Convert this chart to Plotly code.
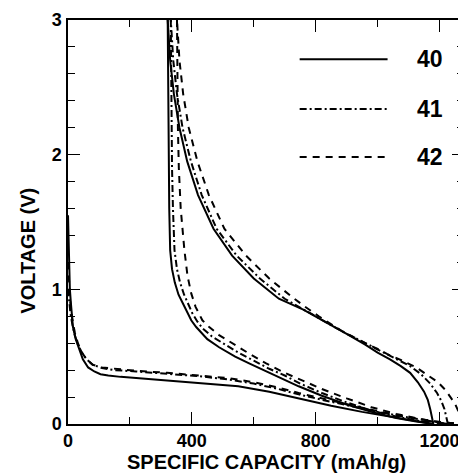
import plotly.graph_objects as go

# ---------------- data (mAh/g, V) ----------------
fd40_x = [0, 3, 6, 10, 16, 25, 35, 48, 65, 85, 105, 130, 170, 250, 350, 450, 550, 650, 750, 850, 950, 1050, 1120, 1180]
fd40_y = [1.55, 1.25, 1.0, 0.88, 0.72, 0.63, 0.56, 0.48, 0.42, 0.39, 0.37, 0.36, 0.35, 0.335, 0.315, 0.30, 0.28, 0.24, 0.185, 0.135, 0.09, 0.05, 0.025, 0.0]

fd41_x = [0, 4, 8, 14, 22, 32, 45, 60, 80, 110, 150, 220, 320, 424, 520, 600, 680, 745, 820, 900, 1000, 1100, 1170, 1227]
fd41_y = [1.0, 0.9, 0.82, 0.74, 0.66, 0.59, 0.53, 0.48, 0.44, 0.415, 0.40, 0.39, 0.375, 0.355, 0.33, 0.30, 0.26, 0.22, 0.18, 0.14, 0.09, 0.048, 0.02, 0.0]

fd42_x = [0, 4, 8, 14, 22, 32, 45, 60, 80, 110, 150, 220, 320, 424, 520, 600, 680, 745, 820, 900, 1000, 1100, 1180, 1269]
fd42_y = [1.2, 1.0, 0.88, 0.78, 0.68, 0.60, 0.53, 0.48, 0.44, 0.42, 0.41, 0.395, 0.38, 0.36, 0.34, 0.31, 0.27, 0.23, 0.19, 0.145, 0.095, 0.05, 0.02, 0.0]

ch40_x = [1180, 1176, 1170, 1162, 1150, 1130, 1105, 1075, 1040, 1000, 960, 900, 830, 760, 681, 600, 530, 470, 420, 385, 360, 342, 330, 322]
ch40_y = [0.0, 0.05, 0.11, 0.18, 0.24, 0.31, 0.38, 0.43, 0.48, 0.53, 0.59, 0.67, 0.76, 0.85, 0.93, 1.08, 1.25, 1.45, 1.7, 1.95, 2.2, 2.45, 2.7, 3.0]

ch41_x = [1227, 1223, 1216, 1206, 1192, 1170, 1140, 1105, 1065, 1020, 970, 900, 830, 760, 700, 620, 545, 480, 432, 397, 370, 352, 340, 332]
ch41_y = [0.0, 0.05, 0.11, 0.17, 0.23, 0.30, 0.37, 0.43, 0.48, 0.53, 0.59, 0.67, 0.76, 0.85, 0.93, 1.08, 1.25, 1.45, 1.7, 1.95, 2.2, 2.45, 2.7, 3.0]

ch42_x = [1269, 1266, 1260, 1250, 1238, 1220, 1195, 1163, 1125, 1080, 1030, 1002, 960, 885, 810, 760, 720, 650, 575, 505, 455, 418, 390, 372, 360, 352]
ch42_y = [0.0, 0.05, 0.10, 0.15, 0.19, 0.25, 0.31, 0.36, 0.42, 0.47, 0.52, 0.555, 0.60, 0.69, 0.80, 0.88, 0.95, 1.08, 1.25, 1.45, 1.7, 1.95, 2.2, 2.45, 2.7, 3.0]

sd40_x = [322, 323, 324, 325, 327, 330, 336, 345, 357, 370, 382, 398, 414, 450, 488, 540, 585, 640, 690, 745, 820, 900, 980, 1060, 1120, 1180]
sd40_y = [3.0, 2.6, 2.2, 1.9, 1.6, 1.29, 1.15, 1.05, 0.96, 0.90, 0.84, 0.77, 0.72, 0.63, 0.57, 0.50, 0.45, 0.39, 0.34, 0.28, 0.21, 0.145, 0.09, 0.045, 0.02, 0.0]

sd41_x = [332, 333, 334, 336, 339, 344, 352, 362, 375, 390, 402, 418, 435, 465, 500, 550, 600, 650, 700, 750, 820, 900, 980, 1060, 1140, 1227]
sd41_y = [3.0, 2.6, 2.2, 1.9, 1.6, 1.29, 1.15, 1.05, 0.96, 0.88, 0.82, 0.76, 0.71, 0.65, 0.60, 0.53, 0.47, 0.41, 0.36, 0.30, 0.23, 0.16, 0.10, 0.055, 0.02, 0.0]

sd42_x = [352, 353, 355, 358, 364, 376, 386, 398, 412, 434, 456, 488, 530, 580, 640, 700, 760, 820, 900, 980, 1060, 1140, 1200, 1269]
sd42_y = [3.0, 2.6, 2.2, 1.9, 1.6, 1.29, 1.10, 0.97, 0.87, 0.77, 0.72, 0.66, 0.60, 0.53, 0.45, 0.38, 0.32, 0.26, 0.19, 0.125, 0.075, 0.035, 0.015, 0.0]

labels = ["40", "41", "42"]
x_ticks = [0, 400, 800, 1200]
y_ticks = [0, 1, 2, 3]

FONT = "Liberation Sans"
DASH = {"40": "solid", "41": "7px,3px,2px,3px", "42": "7px,6px"}

series = {
    "40": [(fd40_x, fd40_y), (ch40_x, ch40_y), (sd40_x, sd40_y)],
    "41": [(fd41_x, fd41_y), (ch41_x, ch41_y), (sd41_x, sd41_y)],
    "42": [(fd42_x, fd42_y), (ch42_x, ch42_y), (sd42_x, sd42_y)],
}

fig = go.Figure()
for lab in labels:
    for xs, ys in series[lab]:
        fig.add_trace(go.Scatter(x=xs, y=ys, mode="lines", showlegend=False,
                                 line=dict(color="black", width=2, dash=DASH[lab])))

# legend drawn as lines + labels in paper coordinates
leg_y = [0.903, 0.780, 0.661]
for lab, yy in zip(labels, leg_y):
    fig.add_shape(type="line", xref="paper", yref="paper", x0=0.585, x1=0.807, y0=yy, y1=yy,
                  line=dict(color="black", width=2, dash=DASH[lab]))
    fig.add_annotation(xref="paper", yref="paper", x=0.915, y=yy, text=lab, showarrow=False,
                       xanchor="center", yanchor="middle",
                       font=dict(family=FONT, size=23, color="black", weight="bold"))

fig.add_annotation(xref="paper", yref="paper", x=0.5, y=-0.094, text="SPECIFIC CAPACITY (mAh/g)",
                   showarrow=False, xanchor="center", yanchor="middle",
                   font=dict(family=FONT, size=20, color="black", weight="bold"))
fig.add_annotation(xref="paper", yref="paper", x=-0.1, y=0.43, text="VOLTAGE (V)", textangle=-90,
                   showarrow=False, xanchor="center", yanchor="middle",
                   font=dict(family=FONT, size=20, color="black", weight="bold"))

axis_common = dict(showline=True, linecolor="black", linewidth=1.5, mirror="ticks",
                   ticks="inside", ticklen=12, tickwidth=1, tickcolor="black",
                   showgrid=False, zeroline=False, ticklabeloverflow="allow",
                   tickfont=dict(family=FONT, size=18, color="black", weight="bold"))

fig.update_xaxes(range=[0, 1279], tickvals=x_ticks, ticktext=[str(v) for v in x_ticks],
                 minor=dict(ticks="inside", ticklen=7, tickwidth=1, tickcolor="black", dtick=200, showgrid=False),
                 ticklabelstandoff=0, **axis_common)
fig.update_yaxes(range=[0, 3], tickvals=y_ticks, ticktext=[str(v) for v in y_ticks],
                 minor=dict(ticks="inside", ticklen=7, tickwidth=1, tickcolor="black", dtick=0.2, showgrid=False),
                 ticklabelstandoff=1, **axis_common)

# the page body adds an 8px offset, so the figure is sized to end at the window edge
fig.update_layout(width=458, height=466, margin=dict(l=60, r=0, t=12, b=50),
                  plot_bgcolor="white", paper_bgcolor="white", showlegend=False,
                  font=dict(family=FONT, color="black"))

fig.write_html("out.html")
